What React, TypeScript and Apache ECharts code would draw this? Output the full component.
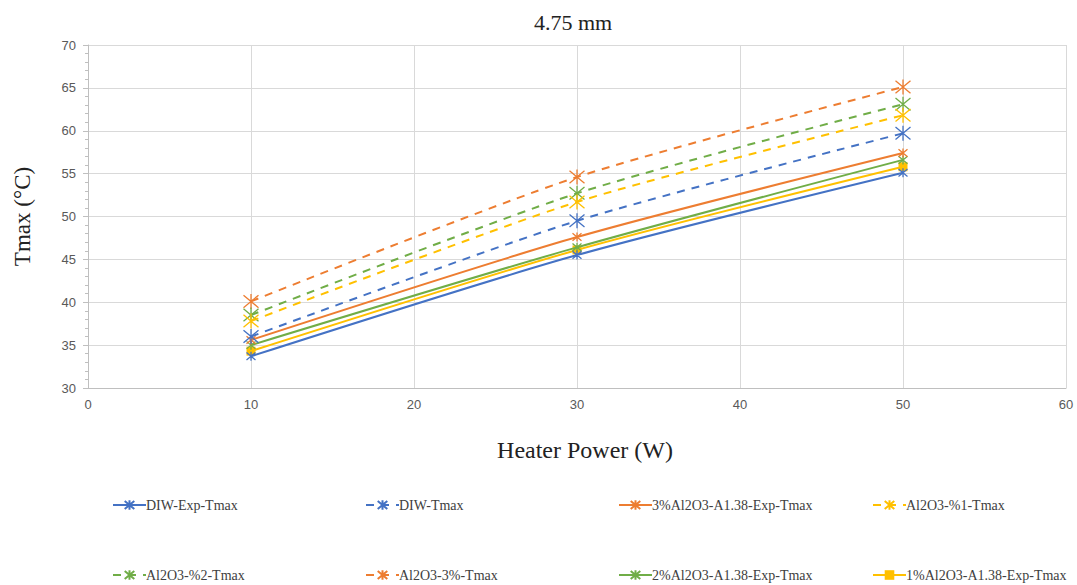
import React, { useEffect, useRef } from "react";
import * as echarts from "echarts";

const xValues = [10, 30, 50];
const seriesNames = [
  "DIW-Exp-Tmax",
  "DIW-Tmax",
  "3%Al2O3-A1.38-Exp-Tmax",
  "Al2O3-%1-Tmax",
  "Al2O3-%2-Tmax",
  "Al2O3-3%-Tmax",
  "2%Al2O3-A1.38-Exp-Tmax",
  "1%Al2O3-A1.38-Exp-Tmax",
];
const diwExp = [33.7, 45.5, 55.1];
const diwModel = [36.0, 49.5, 59.7];
const al3Exp = [35.6, 47.6, 57.4];
const al1Model = [37.8, 51.7, 61.8];
const al2Model = [38.5, 52.7, 63.1];
const al3Model = [40.1, 54.6, 65.1];
const al2Exp = [35.0, 46.4, 56.6];
const al1Exp = [34.3, 46.1, 55.8];
const seriesValues = [diwExp, diwModel, al3Exp, al1Model, al2Model, al3Model, al2Exp, al1Exp];

const BLUE = "#4472C4";
const ORANGE = "#ED7D31";
const YELLOW = "#FFC000";
const GREEN = "#70AD47";
const seriesColors = [BLUE, BLUE, ORANGE, YELLOW, GREEN, ORANGE, GREEN, YELLOW];
const seriesDashed = [false, true, false, true, true, true, false, false];

const STAR = "path://M0,0L10,10M10,0L0,10M5,-1L5,11";
const SQUARE = "rect";

export default function App() {
  const ref = useRef<HTMLDivElement>(null);
  useEffect(() => {
    document.body.style.margin = "0";
    const chart = echarts.init(ref.current!, null, { renderer: "svg" });
    const serif = "Liberation Serif";
    const sans = "Liberation Sans";
    const legendLefts = [112, 365, 618, 872];
    const legendTops = [498, 568];
    const legends = seriesNames.map((n, i) => ({
      data: [n],
      left: legendLefts[i % 4],
      top: legendTops[Math.floor(i / 4)],
      itemWidth: 33,
      itemHeight: 12,
      itemGap: 0,
      padding: 0,
      textStyle: { fontFamily: serif, fontSize: 14, color: "#404040", padding: [0, 0, 0, -5] },
    }));
    const series = seriesNames.map((n, i) => {
      const dashed = seriesDashed[i];
      const isSquare = i === 7;
      return {
        name: n,
        type: "line",
        data: xValues.map((x, j) => [x, seriesValues[i][j]]),
        smooth: 0.25,
        symbol: isSquare ? SQUARE : STAR,
        symbolSize: dashed ? 15 : 9,
        lineStyle: { color: seriesColors[i], width: 2, type: dashed ? [8, 7] : "solid" },
        itemStyle: { color: seriesColors[i], borderColor: seriesColors[i], borderWidth: isSquare ? 0 : 1.3 },
        z: 10 - i,
      };
    });
    chart.setOption({
      animation: false,
      textStyle: { fontFamily: serif },
      title: {
        text: "4.75 mm",
        left: 529,
        top: 6,
        textStyle: { fontFamily: serif, fontSize: 22, fontWeight: "normal", color: "#222" },
      },
      legend: legends,
      grid: { left: 88, right: 11, top: 45, bottom: 197 },
      xAxis: {
        type: "value",
        min: 0,
        max: 60,
        interval: 10,
        name: "Heater Power (W)",
        nameLocation: "middle",
        nameGap: 50,
        nameTextStyle: { fontFamily: serif, fontSize: 24, color: "#222", padding: [0, 0, 0, 16] },
        axisLine: { show: true, lineStyle: { color: "#bfbfbf" } },
        axisTick: { show: false },
        axisLabel: { fontFamily: sans, fontSize: 13, color: "#595959", margin: 10 },
        splitLine: { show: true, lineStyle: { color: "#d9d9d9" } },
      },
      yAxis: {
        type: "value",
        min: 30,
        max: 70,
        interval: 5,
        name: "Tmax (°C)",
        nameLocation: "middle",
        nameGap: 54,
        nameTextStyle: { fontFamily: serif, fontSize: 23, color: "#222" },
        axisLine: { show: true, lineStyle: { color: "#bfbfbf" } },
        axisTick: { show: true, length: 5, lineStyle: { color: "#bfbfbf" } },
        minorTick: { show: true, splitNumber: 5, length: 3, lineStyle: { color: "#bfbfbf" } },
        axisLabel: { fontFamily: sans, fontSize: 13, color: "#595959", margin: 12 },
        splitLine: { show: true, lineStyle: { color: "#d9d9d9" } },
      },
      series,
    });
    return () => chart.dispose();
  }, []);
  return <div ref={ref} style={{ width: 1077, height: 585 }} />;
}
